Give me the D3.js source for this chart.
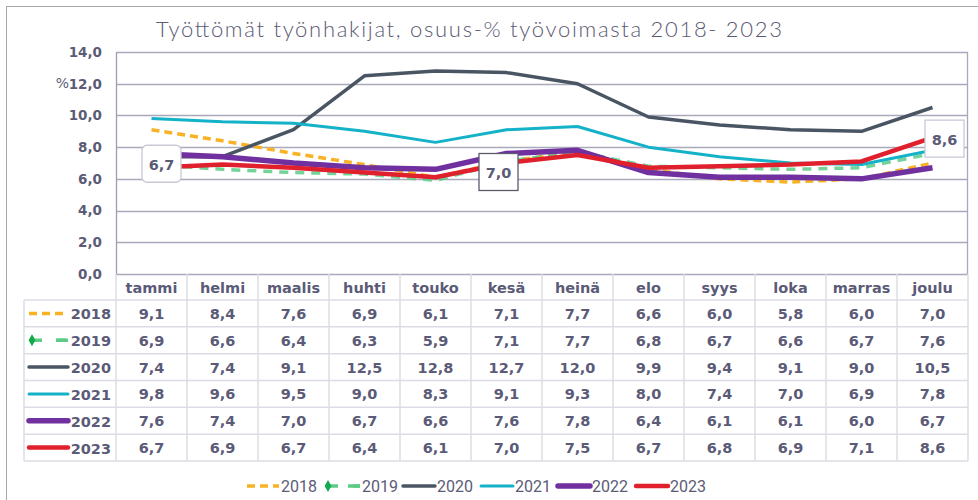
<!DOCTYPE html>
<head>
  <meta charset="utf-8">
  <script src="https://cdn.jsdelivr.net/npm/d3@7"></script>
  <style>
    body { margin:0; background:#fff; font-family:"DejaVu Sans", Arial, sans-serif; }
    .tick text { font-weight:bold; font-size:13.5px; fill:#5b5b76; }
    .cell { font-weight:bold; font-size:14.5px; fill:#5b5b78; }
  </style>
</head>
<body>
<script>
var months = ["tammi","helmi","maalis","huhti","touko","kesä","heinä","elo","syys","loka","marras","joulu"];
var years = ["2018","2019","2020","2021","2022","2023"];
var v2018 = [9.1,8.4,7.6,6.9,6.1,7.1,7.7,6.6,6.0,5.8,6.0,7.0];
var v2019 = [6.9,6.6,6.4,6.3,5.9,7.1,7.7,6.8,6.7,6.6,6.7,7.6];
var v2020 = [7.4,7.4,9.1,12.5,12.8,12.7,12.0,9.9,9.4,9.1,9.0,10.5];
var v2021 = [9.8,9.6,9.5,9.0,8.3,9.1,9.3,8.0,7.4,7.0,6.9,7.8];
var v2022 = [7.6,7.4,7.0,6.7,6.6,7.6,7.8,6.4,6.1,6.1,6.0,6.7];
var v2023 = [6.7,6.9,6.7,6.4,6.1,7.0,7.5,6.7,6.8,6.9,7.1,8.6];
var yTicks = [0,2,4,6,8,10,12,14];
var labelled = [0,5,11];   // 2023 data labels

var styles = {
  "2018": {color:"#f9b224", width:3.5, dash:"8,5"},
  "2019": {color:"#5ccb86", width:3.5, dash:"9,7", marker:"#10a94c"},
  "2020": {color:"#4a5563", width:3.5, dash:null},
  "2021": {color:"#14b2c8", width:3, dash:null},
  "2022": {color:"#7030a0", width:5.5, dash:null},
  "2023": {color:"#e0202c", width:4.5, dash:null}
};
var values = {"2018":v2018,"2019":v2019,"2020":v2020,"2021":v2021,"2022":v2022,"2023":v2023};
var fmt = function(d){ return d.toFixed(1).replace(".", ","); };

var width = 978, height = 500;
var svg = d3.select("body").append("svg").attr("width", width).attr("height", height);

// outer frame
svg.append("rect").attr("x", 6.5).attr("y", 6.5).attr("width", 1000).attr("height", 600)
  .attr("fill", "none").attr("stroke", "#a6a6a6");

svg.append("text").attr("x", 469).attr("y", 37).attr("text-anchor", "middle")
  .attr("font-family", "Lato, sans-serif").attr("font-weight", 300).attr("font-size", 22)
  .attr("fill", "#5a5a72").attr("textLength", 626)
  .text("Työttömät työnhakijat, osuus-% työvoimasta 2018- 2023");

var x = d3.scaleBand().domain(months).range([116, 968]);
var y = d3.scaleLinear().domain([0, 14]).range([274, 52]);

// grid
svg.append("g").selectAll("line").data(yTicks).enter().append("line")
  .attr("x1", 116).attr("x2", 968)
  .attr("y1", function(d){ return Math.round(y(d)) + 0.5; })
  .attr("y2", function(d){ return Math.round(y(d)) + 0.5; })
  .attr("stroke", "#a9a9bd").attr("stroke-width", 1.3);
svg.append("line").attr("x1", 967.5).attr("x2", 967.5).attr("y1", 52).attr("y2", 274)
  .attr("stroke", "#a9a9bd").attr("stroke-width", 1.3);

var yAxis = svg.append("g").attr("transform", "translate(116,0)")
  .call(d3.axisLeft(y).tickValues(yTicks).tickFormat(fmt).tickSize(0).tickPadding(14));
yAxis.select(".domain").attr("stroke", "#9d9db4").attr("stroke-width", 1.3);
yAxis.selectAll(".tick text").attr("font-family", "DejaVu Sans, sans-serif");

// unit label (sits just left of the 12,0 tick, as in the original)
svg.append("text").attr("x", 69).attr("y", 88).attr("text-anchor", "end")
  .attr("font-size", 14).attr("fill", "#5b5b76").text("%");

// lines
var line = d3.line()
  .x(function(d, i){ return x(months[i]) + x.bandwidth() / 2; })
  .y(function(d){ return y(d); });

years.forEach(function(yr){
  var s = styles[yr];
  svg.append("path").datum(values[yr])
    .attr("d", line).attr("fill", "none")
    .attr("stroke", s.color).attr("stroke-width", s.width)
    .attr("stroke-dasharray", s.dash).attr("stroke-linejoin", "round")
    .attr("opacity", yr == "2019" ? 0.85 : 1);
});

// data labels (2023)
var boxes = [
  {i:0, dx:10, dy:-4, rx:5, stroke:"#c9c9d6"},
  {i:5, dx:-8, dy:9, rx:0, stroke:"#5b5b6e"},
  {i:11, dx:12, dy:1, rx:0, stroke:"#c9c9d6"}
];
boxes.forEach(function(b){
  var cx = x(months[b.i]) + x.bandwidth() / 2 + b.dx;
  var cy = y(v2023[b.i]) + b.dy;
  svg.append("rect").attr("x", cx - 19.5).attr("y", cy - 18.5).attr("width", 39).attr("height", 37)
    .attr("rx", b.rx).attr("fill", "#fff").attr("stroke", b.stroke).attr("stroke-width", 1.3);
  svg.append("text").attr("class", "cell").attr("x", cx).attr("y", cy + 6)
    .attr("text-anchor", "middle").attr("font-size", 16).text(fmt(v2023[b.i]));
});

// data table
var rowTop = 300, rowH = 26.83, tableLeft = 24;
var grid = svg.append("g").attr("stroke", "#dcdce6").attr("stroke-width", 1.5);
months.forEach(function(m, i){
  grid.append("line").attr("x1", x(m)).attr("x2", x(m)).attr("y1", 274).attr("y2", rowTop + rowH * 6);
});
grid.append("line").attr("x1", 968).attr("x2", 968).attr("y1", 274).attr("y2", rowTop + rowH * 6);
grid.append("line").attr("x1", tableLeft).attr("x2", tableLeft).attr("y1", rowTop).attr("y2", rowTop + rowH * 6);
d3.range(7).forEach(function(r){
  grid.append("line").attr("x1", tableLeft).attr("x2", 968)
    .attr("y1", rowTop + rowH * r).attr("y2", rowTop + rowH * r);
});

svg.selectAll(".mon").data(months).enter().append("text")
  .attr("class", "cell").attr("x", function(d){ return x(d) + x.bandwidth() / 2; })
  .attr("y", 293).attr("text-anchor", "middle").text(function(d){ return d; });

function key(g, yr, x0, x1, cy){
  var s = styles[yr];
  if (s.marker) {
    g.append("line").attr("x1", x0 + 4).attr("x2", x1).attr("y1", cy).attr("y2", cy)
      .attr("stroke", s.color).attr("stroke-width", s.width).attr("stroke-dasharray", "9,15");
    g.append("path").attr("d", d3.symbol(d3.symbolDiamond, 40)()).attr("fill", s.marker)
      .attr("transform", "translate(" + (x0 + 3) + "," + cy + ")");
    g.append("line").attr("x1", x1 - 12).attr("x2", x1).attr("y1", cy).attr("y2", cy)
      .attr("stroke", s.color).attr("stroke-width", s.width);
  } else {
    g.append("line").attr("x1", x0).attr("x2", x1).attr("y1", cy).attr("y2", cy)
      .attr("stroke", s.color).attr("stroke-width", s.width)
      .attr("stroke-dasharray", s.dash).attr("stroke-linecap", s.dash ? null : "round");
  }
}

years.forEach(function(yr, r){
  var cy = rowTop + rowH * r + rowH / 2;
  key(svg, yr, 29, 68, cy);
  svg.append("text").attr("class", "cell").attr("x", 111).attr("y", cy + 6)
    .attr("text-anchor", "end").attr("font-size", 16.5).text(yr);
  values[yr].forEach(function(v, i){
    svg.append("text").attr("class", "cell")
      .attr("x", x(months[i]) + x.bandwidth() / 2).attr("y", cy + 5.5)
      .attr("text-anchor", "middle").text(fmt(v));
  });
});

// legend
var legX = [247, 325, 403, 481, 558, 636];
years.forEach(function(yr, i){
  var x0 = legX[i], x1 = x0 + (i == 1 ? 35 : 32);
  key(svg, yr, x0, x1, 486);
  svg.append("text").attr("x", x1 + 2).attr("y", 492)
    .attr("font-family", "Roboto, sans-serif").attr("font-size", 16).attr("fill", "#5b5b76")
    .text(yr);
});
</script>
</body>
